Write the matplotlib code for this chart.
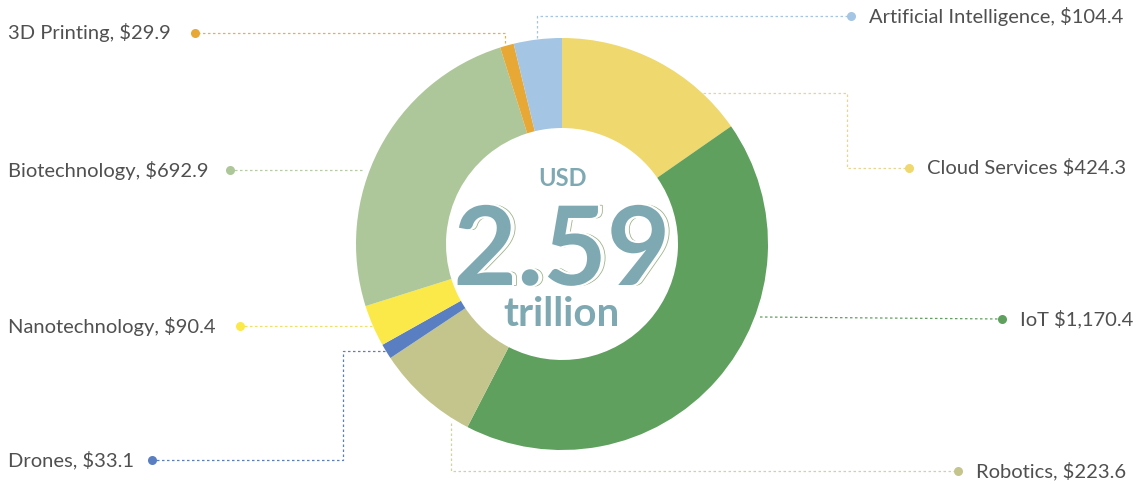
import matplotlib
matplotlib.use("Agg")
import matplotlib.pyplot as plt
import matplotlib.patheffects as pe

categories = ["Cloud Services", "IoT", "Robotics", "Drones", "Nanotechnology",
              "Biotechnology", "3D Printing", "Artificial Intelligence"]
values = [424.3, 1170.4, 223.6, 33.1, 90.4, 692.9, 29.9, 104.4]
labels = ["Cloud Services $424.3", "IoT $1,170.4", "Robotics, $223.6", "Drones, $33.1",
          "Nanotechnology, $90.4", "Biotechnology, $692.9", "3D Printing, $29.9",
          "Artificial Intelligence, $104.4"]
colors = ["#EFD86E", "#5FA05E", "#C3C58C", "#5A7EC2", "#FBE94A", "#ADC79A", "#E8A835", "#A4C6E4"]
line_colors = ["#E8D690", "#5FA05E", "#D2D2A0", "#5A7EC2", "#F3E05A", "#B5CCA4", "#E8B04A", "#A4C6E4"]

W, H = 1136, 484
fig = plt.figure(figsize=(W / 100, H / 100), dpi=100)
ax = fig.add_axes([0, 0, 1, 1])

def Y(y):
    return H - y

cx, cy, R, rin = 562, 244, 206, 116
ax.pie(values, colors=colors, startangle=90, counterclock=False,
       center=(cx, Y(cy)), radius=R, wedgeprops=dict(width=R - rin, linewidth=0),
       frame=True)
ax.set_xlim(0, W)
ax.set_ylim(0, H)
ax.set_aspect("equal")
ax.axis("off")

# leader lines: (points in pixel coords), dot position, text side
leaders = [
    ([(703, 93), (847, 93), (847, 168), (909, 168)], (909, 168), "right"),
    ([(760, 317), (1002, 319)], (1002, 319), "right"),
    ([(451, 423), (451, 471), (958, 471)], (958, 471), "right"),
    ([(385, 351), (343, 351), (343, 460), (152, 460)], (152, 460), "left"),
    ([(372, 326), (240, 326)], (240, 326), "left"),
    ([(362, 170), (230, 170)], (230, 170), "left"),
    ([(505, 43), (505, 33), (195, 33)], (195, 33), "left"),
    ([(537, 38), (537, 16), (851, 16)], (851, 16), "right"),
]

txtcol = "#505050"
for i, (pts, dot, side) in enumerate(leaders):
    xs = [p[0] for p in pts]
    ys = [Y(p[1]) for p in pts]
    ax.plot(xs, ys, color=line_colors[i], lw=0.9, ls=(0, (2, 2)), zorder=1)
    ax.plot([dot[0]], [Y(dot[1])], "o", color=colors[i], ms=6.5, mec="none", zorder=3)
    x0 = dot[0] + 18 if side == "right" else 8
    ax.text(x0, Y(dot[1]), labels[i], ha="left", va="center",
            fontsize=14.5, color=txtcol, family="Lato")

teal = "#7EA9B3"
ax.text(cx, Y(186), "USD", ha="center", va="baseline", fontsize=17, fontweight="bold",
        color=teal, family="Lato")
# outline echo behind the big number
ax.text(cx + 4, Y(285), "2.59", ha="center", va="baseline", fontsize=79, fontweight="bold",
        color="white", family="Lato",
        path_effects=[pe.Stroke(linewidth=1.2, foreground="#9DB58C"), pe.Normal()])
ax.text(cx, Y(285), "2.59", ha="center", va="baseline", fontsize=79, fontweight="bold",
        color=teal, family="Lato",
        path_effects=[pe.Stroke(linewidth=3, foreground="white"), pe.Normal()])
ax.text(cx, Y(326), "trillion", ha="center", va="baseline", fontsize=29, fontweight="bold",
        color=teal, family="Lato")

fig.savefig("out.png", dpi=100, facecolor="white")
